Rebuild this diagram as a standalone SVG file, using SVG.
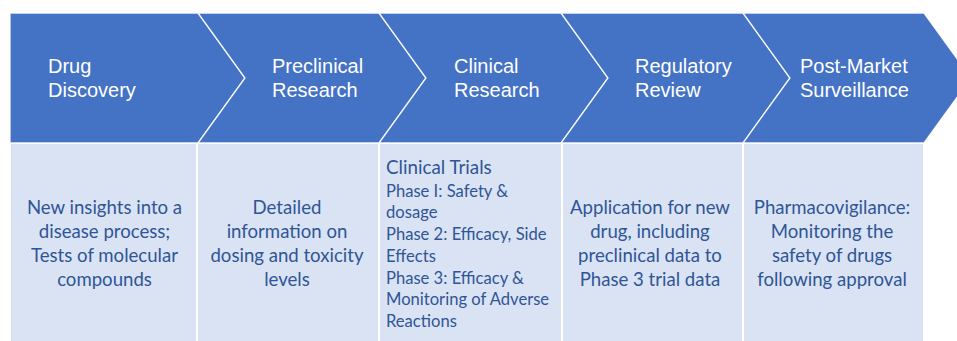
<svg xmlns="http://www.w3.org/2000/svg" width="957" height="341" viewBox="0 0 957 341">
<style>
.chev{fill:#4472C4;stroke:#ffffff;stroke-width:1.3;stroke-opacity:0.9}
.cell{fill:#DAE3F3;stroke:#ffffff;stroke-width:2}
.h{font-family:"Liberation Sans",Arial,sans-serif;font-size:20px;fill:#ffffff}
.b{font-family:Lato,"Open Sans",sans-serif;font-size:18.6px;fill:#2F5597;text-anchor:middle}
.bl{font-family:Lato,"Open Sans",sans-serif;font-size:18.8px;fill:#2F5597}
.s{font-family:Lato,"Open Sans",sans-serif;font-size:16.6px;fill:#2F5597}
</style>
<rect width="957" height="341" fill="#ffffff"/>
<g id="cells">
<rect class="cell" x="10" y="143" width="187" height="210"/>
<rect class="cell" x="197" y="143" width="182" height="210"/>
<rect class="cell" x="379" y="143" width="183" height="210"/>
<rect class="cell" x="562" y="143" width="181" height="210"/>
<rect class="cell" x="743" y="143" width="181" height="210"/>
</g>
<g id="stage1">
<polygon class="chev" points="10,13 198,13 245,78 198,143 10,143"/>
<text class="h" x="48" y="73">Drug</text>
<text class="h" x="48" y="97">Discovery</text>
<text class="b" x="104.5"><tspan x="104.5" y="214">New insights into a</tspan><tspan x="104.5" y="238">disease process;</tspan><tspan x="104.5" y="262">Tests of molecular</tspan><tspan x="104.5" y="286">compounds</tspan></text>
</g>
<g id="stage2">
<polygon class="chev" points="198,13 379,13 426,78 379,143 198,143 245,78"/>
<text class="h" x="272" y="73">Preclinical</text>
<text class="h" x="272" y="97">Research</text>
<text class="b"><tspan x="287" y="214">Detailed</tspan><tspan x="287" y="238">information on</tspan><tspan x="287" y="262">dosing and toxicity</tspan><tspan x="287" y="286">levels</tspan></text>
</g>
<g id="stage3">
<polygon class="chev" points="379,13 561,13 608,78 561,143 379,143 426,78"/>
<text class="h" x="454" y="73">Clinical</text>
<text class="h" x="454" y="97">Research</text>
<text class="bl" x="386" y="174">Clinical Trials</text>
<text class="s"><tspan x="386" y="196.5">Phase I: Safety &amp;</tspan><tspan x="386" y="218">dosage</tspan><tspan x="386" y="240">Phase 2: Efficacy, Side</tspan><tspan x="386" y="261.5">Effects</tspan><tspan x="386" y="283.5">Phase 3: Efficacy &amp;</tspan><tspan x="386" y="305">Monitoring of Adverse</tspan><tspan x="386" y="327">Reactions</tspan></text>
</g>
<g id="stage4">
<polygon class="chev" points="561,13 743,13 790,78 743,143 561,143 608,78"/>
<text class="h" x="635" y="73">Regulatory</text>
<text class="h" x="635" y="97">Review</text>
<text class="b"><tspan x="650" y="214">Application for new</tspan><tspan x="650" y="238">drug, including</tspan><tspan x="650" y="262">preclinical data to</tspan><tspan x="650" y="286">Phase 3 trial data</tspan></text>
</g>
<g id="stage5">
<polygon class="chev" points="743,13 924,13 971,78 924,143 743,143 790,78"/>
<text class="h" x="800" y="73">Post-Market</text>
<text class="h" x="800" y="97">Surveillance</text>
<text class="b"><tspan x="832" y="214">Pharmacovigilance:</tspan><tspan x="832" y="238">Monitoring the</tspan><tspan x="832" y="262">safety of drugs</tspan><tspan x="832" y="286">following approval</tspan></text>
</g>
<g id="connectors"></g>
</svg>
